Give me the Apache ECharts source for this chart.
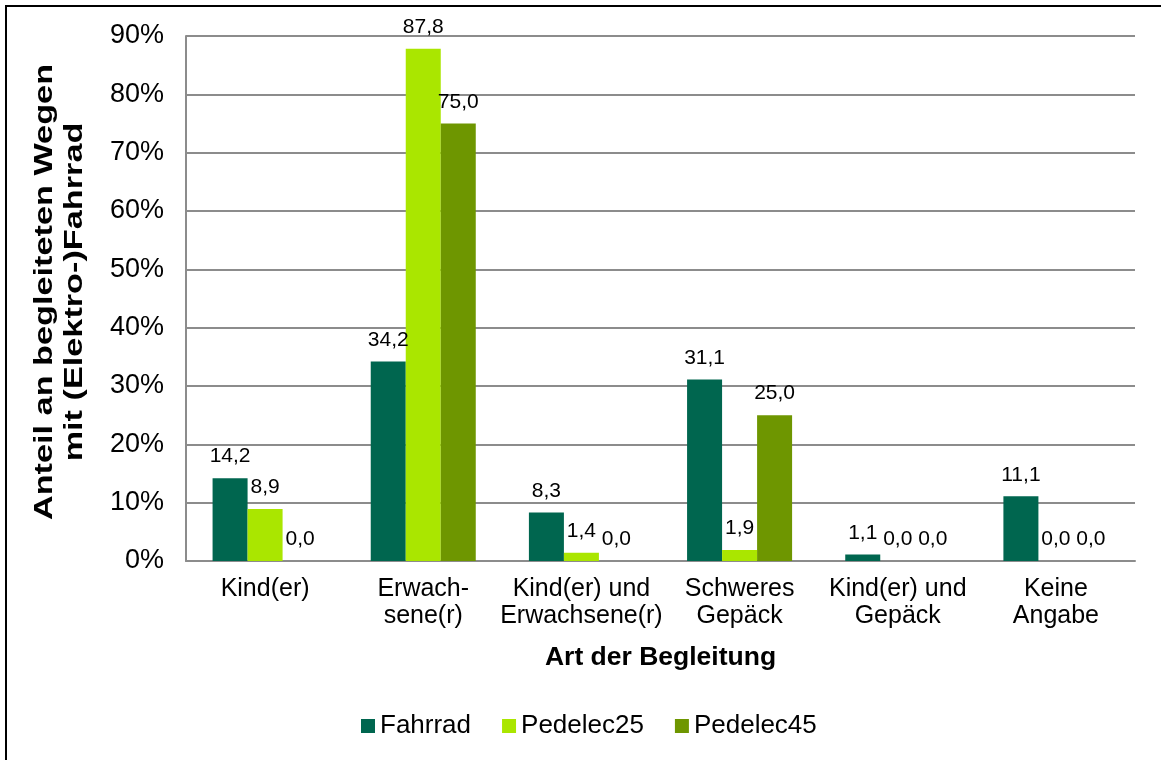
<!DOCTYPE html>
<html>
<head>
<meta charset="utf-8">
<script src="https://cdn.jsdelivr.net/npm/echarts@6/dist/echarts.min.js"></script>
<style>
html,body{margin:0;padding:0;background:#fff;}
#chart{width:1161px;height:760px;}
</style>
</head>
<body>
<div id="chart"></div>
<script>
const categories = ['Kind(er)', 'Erwach-\nsene(r)', 'Kind(er) und\nErwachsene(r)', 'Schweres\nGepäck', 'Kind(er) und\nGepäck', 'Keine\nAngabe'];
const seriesNames = ['Fahrrad', 'Pedelec25', 'Pedelec45'];
const fahrrad = [14.2, 34.2, 8.3, 31.1, 1.1, 11.1];
const pedelec25 = [8.9, 87.8, 1.4, 1.9, 0.0, 0.0];
const pedelec45 = [0.0, 75.0, 0.0, 25.0, 0.0, 0.0];
const colors = ['#00664F', '#AAE600', '#6E9600'];
const yAxisTitleLines = ['Anteil an begleiteten Wegen', 'mit (Elektro-)Fahrrad'];
const xAxisTitle = 'Art der Begleitung';

const FONT = '"Liberation Sans", Arial, sans-serif';
const chart = echarts.init(document.getElementById('chart'), null, {renderer: 'canvas'});

function barSeries(name, data, color) {
  return {
    name: name,
    type: 'bar',
    data: data,
    barGap: '0%',
    barCategoryGap: '33.6%',
    itemStyle: {color: color},
    label: {
      show: true,
      position: 'top',
      distance: 11,
      color: '#000',
      fontFamily: FONT,
      fontSize: 21,
      formatter: p => p.value.toFixed(1).replace('.', ',')
    }
  };
}

function yTitle(text, x) {
  return {
    type: 'text',
    x: x,
    y: 292,
    rotation: Math.PI / 2,
    scaleX: 1.37,
    silent: true,
    style: {
      text: text,
      fill: '#000',
      font: 'bold 25px ' + FONT,
      align: 'center',
      verticalAlign: 'middle'
    }
  };
}

chart.setOption({
  animation: false,
  backgroundColor: '#fff',
  textStyle: {fontFamily: FONT},
  graphic: [
    {
      type: 'rect',
      shape: {x: 6, y: 6, width: 1170, height: 770},
      style: {fill: 'none', stroke: '#000', lineWidth: 2},
      silent: true
    },
    yTitle(yAxisTitleLines[0], 45),
    yTitle(yAxisTitleLines[1], 75)
  ],
  grid: {left: 186, right: 26, top: 36, bottom: 199, containLabel: false},
  legend: {
    data: seriesNames,
    left: 356,
    top: 708,
    itemWidth: 14,
    itemHeight: 14,
    itemGap: 31,
    icon: 'rect',
    textStyle: {fontFamily: FONT, fontSize: 26, color: '#000'}
  },
  xAxis: {
    type: 'category',
    data: categories,
    axisLine: {lineStyle: {color: '#8c8c8c', width: 2}},
    axisTick: {show: false},
    axisLabel: {
      interval: 0,
      margin: 15,
      color: '#000',
      fontFamily: FONT,
      fontSize: 25,
      lineHeight: 27
    },
    name: xAxisTitle,
    nameLocation: 'middle',
    nameGap: 83,
    nameTextStyle: {fontFamily: FONT, fontSize: 26.5, fontWeight: 'bold', color: '#000'}
  },
  yAxis: {
    type: 'value',
    min: 0,
    max: 90,
    interval: 10,
    axisLine: {show: true, lineStyle: {color: '#8c8c8c', width: 2}},
    axisTick: {show: false},
    splitLine: {lineStyle: {color: '#8c8c8c', width: 2}},
    axisLabel: {
      margin: 22,
      color: '#000',
      fontFamily: FONT,
      fontSize: 27,
      formatter: v => v + '%'
    }
  },
  series: [
    barSeries(seriesNames[0], fahrrad, colors[0]),
    barSeries(seriesNames[1], pedelec25, colors[1]),
    barSeries(seriesNames[2], pedelec45, colors[2])
  ]
});
</script>
</body>
</html>
